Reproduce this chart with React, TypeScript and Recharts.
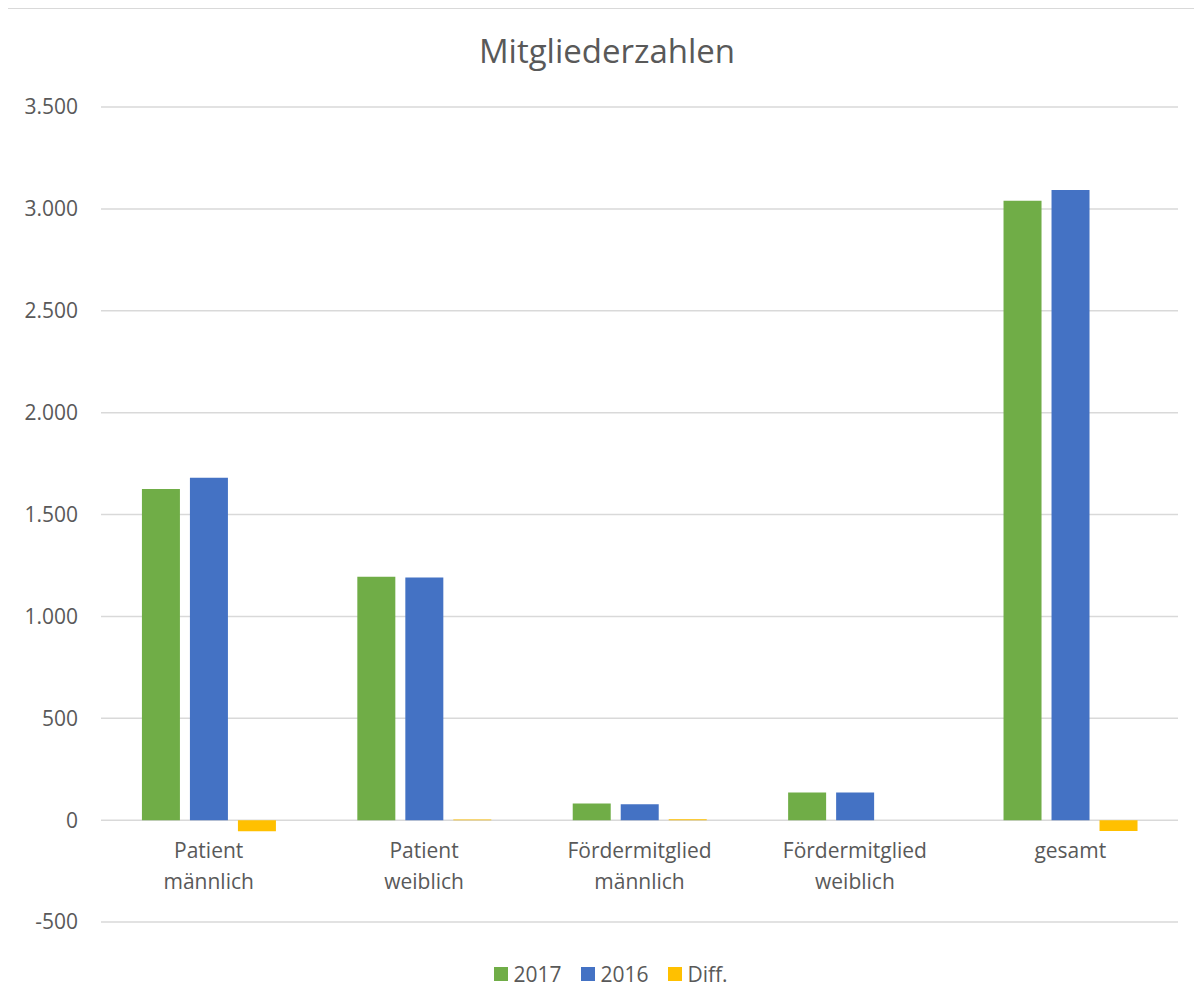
import React from 'react';
import { BarChart, Bar, XAxis, YAxis, CartesianGrid, Legend } from 'recharts';

const categories = ['Patient männlich', 'Patient weiblich', 'Fördermitglied männlich', 'Fördermitglied weiblich', 'gesamt'];
const values2017 = [1625, 1194, 82, 136, 3040];
const values2016 = [1680, 1191, 78, 136, 3093];
const valuesDiff = [-55, 3, 4, 0, -53];
const yTicks = [-500, 0, 500, 1000, 1500, 2000, 2500, 3000, 3500];

const series = [
  { key: 'y2017', name: '2017', color: '#70AD47' },
  { key: 'y2016', name: '2016', color: '#4472C4' },
  { key: 'diff', name: 'Diff.', color: '#FFC000' },
];

const data = categories.map((c, i) => ({
  name: c,
  y2017: values2017[i],
  y2016: values2016[i],
  diff: valuesDiff[i],
}));

const TEXT = '#595959';

const fmt = (v: number) => String(v).replace(/\B(?=(\d{3})+(?!\d))/g, '.');

const CatTick = (props: any) => {
  const { x, y, payload } = props;
  const lines = String(payload.value).split(' ');
  return (
    <text x={x} y={y - 64} textAnchor="middle" fill={TEXT} fontSize={21}>
      {lines.map((l, i) => (
        <tspan key={i} x={x} dy={i === 0 ? 0 : 31}>
          {l}
        </tspan>
      ))}
    </text>
  );
};

const LegendBox = () => (
  <div style={{ display: 'flex', justifyContent: 'center', alignItems: 'center', height: 30, fontSize: 21, color: TEXT, paddingLeft: 36 }}>
    {series.map((s) => (
      <div key={s.key} style={{ display: 'flex', alignItems: 'center', margin: '0 10px' }}>
        <span style={{ width: 14, height: 14, background: s.color, display: 'inline-block', marginRight: 5 }} />
        <span>{s.name}</span>
      </div>
    ))}
  </div>
);

export default function App() {
  return (
    <div
      style={{
        position: 'relative',
        marginLeft: -1,
        width: 1194,
        height: 990,
        borderLeft: '1px solid #d9d9d9',
        borderTop: '1px solid #d9d9d9',
        fontFamily: '"Open Sans", sans-serif',
        background: '#fff',
      }}
    >
      <div
        style={{
          position: 'absolute',
          top: 25,
          left: 0,
          width: 1194,
          textAlign: 'center',
          fontSize: 33,
          lineHeight: 1,
          color: TEXT,
          paddingLeft: 4,
          boxSizing: 'border-box',
        }}
      >
        Mitgliederzahlen
      </div>
      <BarChart
        width={1194}
        height={990}
        data={data}
        margin={{ top: 98, right: 24, left: 0, bottom: 17 }}
        barCategoryGap="19%"
        barGap={10}
      >
        <CartesianGrid vertical={false} stroke="#d9d9d9" strokeWidth={1.5} />
        <XAxis
          dataKey="name"
          axisLine={false}
          tickLine={false}
          tickSize={0}
          tickMargin={0}
          height={30}
          interval={0}
          tick={<CatTick />}
        />
        <YAxis
          domain={[-500, 3500]}
          ticks={yTicks}
          tickFormatter={fmt}
          axisLine={false}
          tickLine={false}
          tickSize={0}
          tickMargin={23}
          width={93}
          tick={{ fill: TEXT, fontSize: 21 }}
          interval={0}
        />
        <Legend
          verticalAlign="bottom"
          content={<LegendBox />}
          wrapperStyle={{ top: 950, bottom: 'auto', height: 30 }}
        />
        {series.map((s) => (
          <Bar key={s.key} dataKey={s.key} name={s.name} fill={s.color} isAnimationActive={false} />
        ))}
      </BarChart>
    </div>
  );
}
